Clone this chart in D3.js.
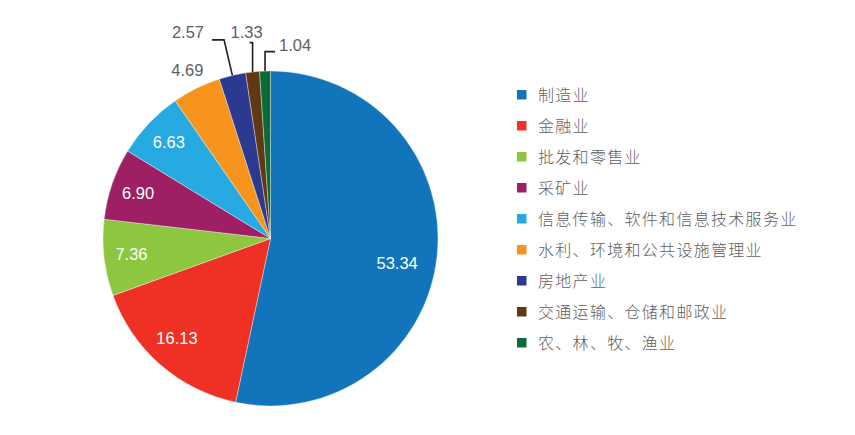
<!DOCTYPE html>
<html>
<head>
<meta charset="utf-8">
<script src="https://cdn.jsdelivr.net/npm/d3@7"></script>
<style>
  html, body { margin: 0; padding: 0; background: #fff; }
  svg { display: block; }
</style>
</head>
<body>
<svg id="chart" width="855" height="435"></svg>
<script>
// ---- data ----
const categories = [
  "制造业",
  "金融业",
  "批发和零售业",
  "采矿业",
  "信息传输、软件和信息技术服务业",
  "水利、环境和公共设施管理业",
  "房地产业",
  "交通运输、仓储和邮政业",
  "农、林、牧、渔业"
];
const values = [53.34, 16.13, 7.36, 6.90, 6.63, 4.69, 2.57, 1.33, 1.04];
const valueLabels = ["53.34", "16.13", "7.36", "6.90", "6.63", "4.69", "2.57", "1.33", "1.04"];
const colors = ["#1274ba", "#ee3124", "#8dc63f", "#9e1f63", "#27aae1", "#f7941d", "#2b3990", "#603913", "#0d6b3a"];

// ---- layout ----
const svg = d3.select("#chart");
const cx = 270.5, cy = 238.5, R = 167.5;
const textGrey = "#5f5d5d";
const numFont = "Liberation Sans, Arial, sans-serif";

const pie = d3.pie().sort(null).value(d => d.value);
const arcs = pie(categories.map((c, i) => ({ name: c, value: values[i], label: valueLabels[i], color: colors[i] })));
const arc = d3.arc().innerRadius(0).outerRadius(R);

const g = svg.append("g").attr("transform", `translate(${cx},${cy})`);

g.selectAll("path.slice")
  .data(arcs)
  .enter().append("path")
  .attr("class", "slice")
  .attr("d", arc)
  .attr("fill", d => d.data.color)
  .attr("stroke", "#ffffff")
  .attr("stroke-opacity", 0.6)
  .attr("stroke-width", 0.6);

function polar(r, a) { return [Math.sin(a) * r, -Math.cos(a) * r]; }
const mid = d => (d.startAngle + d.endAngle) / 2;

// inside labels
arcs.forEach((d, i) => {
  if (d.data.value < 6) return;
  let r = 140, a = mid(d);
  if (d.data.value > 50) { r = 129; a += 5 * Math.PI / 180; }
  else if (d.data.value > 10) { r = 137; a += 2 * Math.PI / 180; }
  const [x, y] = polar(r, a);
  g.append("text")
    .attr("x", x).attr("y", y)
    .attr("dy", "0.35em")
    .attr("text-anchor", "middle")
    .attr("fill", "#ffffff")
    .attr("font-family", numFont)
    .attr("font-size", 16.5)
    .text(d.data.label);
});

// outside labels (layout rules per small slice)
const outside = {
  5: { type: "plain", r: 188 },
  6: { type: "leader", elbowR: 204, hx: -12, anchor: "end", tdx: -8, tdy: -2 },
  7: { type: "leader", elbowR: 197, hx: -3, anchor: "middle", tdx: -3, tdy: -5 },
  8: { type: "leader", elbowR: 187, hx: 10, anchor: "start", tdx: 4, tdy: -1 }
};
arcs.forEach((d, i) => {
  const o = outside[i];
  if (!o) return;
  const a = mid(d);
  if (o.type === "plain") {
    const [x, y] = polar(o.r, a);
    g.append("text")
      .attr("x", x).attr("y", y).attr("dy", "0.35em")
      .attr("text-anchor", "middle")
      .attr("fill", textGrey)
      .attr("font-family", numFont)
      .attr("font-size", 16.5)
      .text(d.data.label);
  } else {
    const p0 = polar(R, a);
    const p1 = polar(o.elbowR, a);
    if (i === 7 || i === 8) p1[0] = p0[0]; // vertical leader
    const p2 = [p1[0] + o.hx, p1[1]];
    g.append("path")
      .attr("d", d3.line()([p0, p1, p2]))
      .attr("fill", "none")
      .attr("stroke", "#231f20")
      .attr("stroke-width", 1.6);
    g.append("text")
      .attr("x", p2[0] + o.tdx).attr("y", p2[1] + o.tdy)
      .attr("text-anchor", o.anchor)
      .attr("fill", textGrey)
      .attr("font-family", numFont)
      .attr("font-size", 16.5)
      .text(d.data.label);
  }
});

// legend
const legendY = d3.scalePoint().domain(categories).range([95, 343]);
const lg = svg.append("g");
const rows = lg.selectAll("g.row").data(categories).enter().append("g")
  .attr("class", "row")
  .attr("transform", d => `translate(517,${legendY(d)})`);
rows.append("rect")
  .attr("x", 0).attr("y", -5).attr("width", 9.5).attr("height", 9.5)
  .attr("fill", (d, i) => colors[i]);
rows.append("text")
  .attr("x", 21).attr("y", 0).attr("dy", "0.36em")
  .attr("fill", textGrey)
  .attr("font-family", "Noto Sans CJK SC, sans-serif")
  .attr("font-weight", 300)
  .attr("font-size", 16)
  .attr("letter-spacing", 1.3)
  .text(d => d);
</script>
</body>
</html>
